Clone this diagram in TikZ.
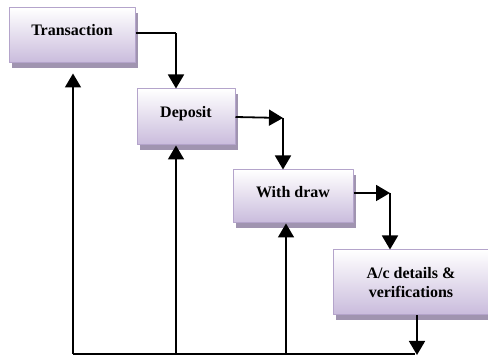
\documentclass[tikz,border=0pt]{standalone}
\usepackage{fontspec}
\setmainfont{Liberation Serif}
\usetikzlibrary{arrows.meta,shadows}

\definecolor{boxline}{HTML}{B4A4CB}
\definecolor{boxlow}{HTML}{C9BBDC}
\definecolor{boxshadow}{HTML}{A094B0}

\tikzset{
  stagebox/.style={draw=boxline, line width=1pt, top color=white, bottom color=boxlow,
    inner sep=0pt, align=center, font=\fontsize{16}{19}\selectfont\bfseries,
    drop shadow={shadow xshift=3pt, shadow yshift=-5pt, fill=boxshadow, opacity=1}},
  flow/.style={line width=1.8pt, -{Triangle[width=16pt,length=14pt]}},
  plain/.style={line width=1.8pt}
}

\begin{document}
\begin{tikzpicture}[x=1pt,y=1pt,line join=round]

\useasboundingbox (0,0) rectangle (488,356);

% the four stages
\node[stagebox, minimum width=126pt, minimum height=55pt, text height=11pt, text depth=10pt] (trans) at (72,320.5) {Transaction};
\node[stagebox, minimum width=98pt, minimum height=56pt, text height=11pt, text depth=10pt] (dep) at (186,239) {Deposit};
\node[stagebox, minimum width=120pt, minimum height=53pt, text height=11pt, text depth=8pt] (wd) at (293,159.5) {With draw};
\node[stagebox, minimum width=156pt, minimum height=65pt] (acd) at (411,73.5) {A/c details \&\\verifications};

% corners of the steps
\coordinate (tc) at (176,323);
\coordinate (dc) at (283,238);
\coordinate (wc) at (390,163);
\coordinate (ae) at (417,1);

% return line along the bottom
\coordinate (b1) at (73,2);
\coordinate (b2) at (176,2);
\coordinate (b3) at (286,2);
\coordinate (b4) at (415,2);

\draw[plain] ([yshift=2.5pt]trans.east) -- (tc);
\draw[flow] (tc) -- ([xshift=-10pt]dep.north);

\draw[flow] (dep.east) -- (dc);
\draw[flow] (dc) -- ([xshift=-10pt]wd.north);

\draw[flow] ([yshift=3.5pt]wd.east) -- (wc);
\draw[flow] (wc) -- ([xshift=-21pt]acd.north);

\draw[flow] ([xshift=6pt]acd.south) -- (ae);

\draw[plain] (b1) -- (b4);
\draw[flow] (b1) -- ([xshift=1pt,yshift=-10pt]trans.south);
\draw[flow] (b2) -- ([xshift=-10pt]dep.south);
\draw[flow] (b3) -- ([xshift=-7pt]wd.south);

\end{tikzpicture}
\end{document}
